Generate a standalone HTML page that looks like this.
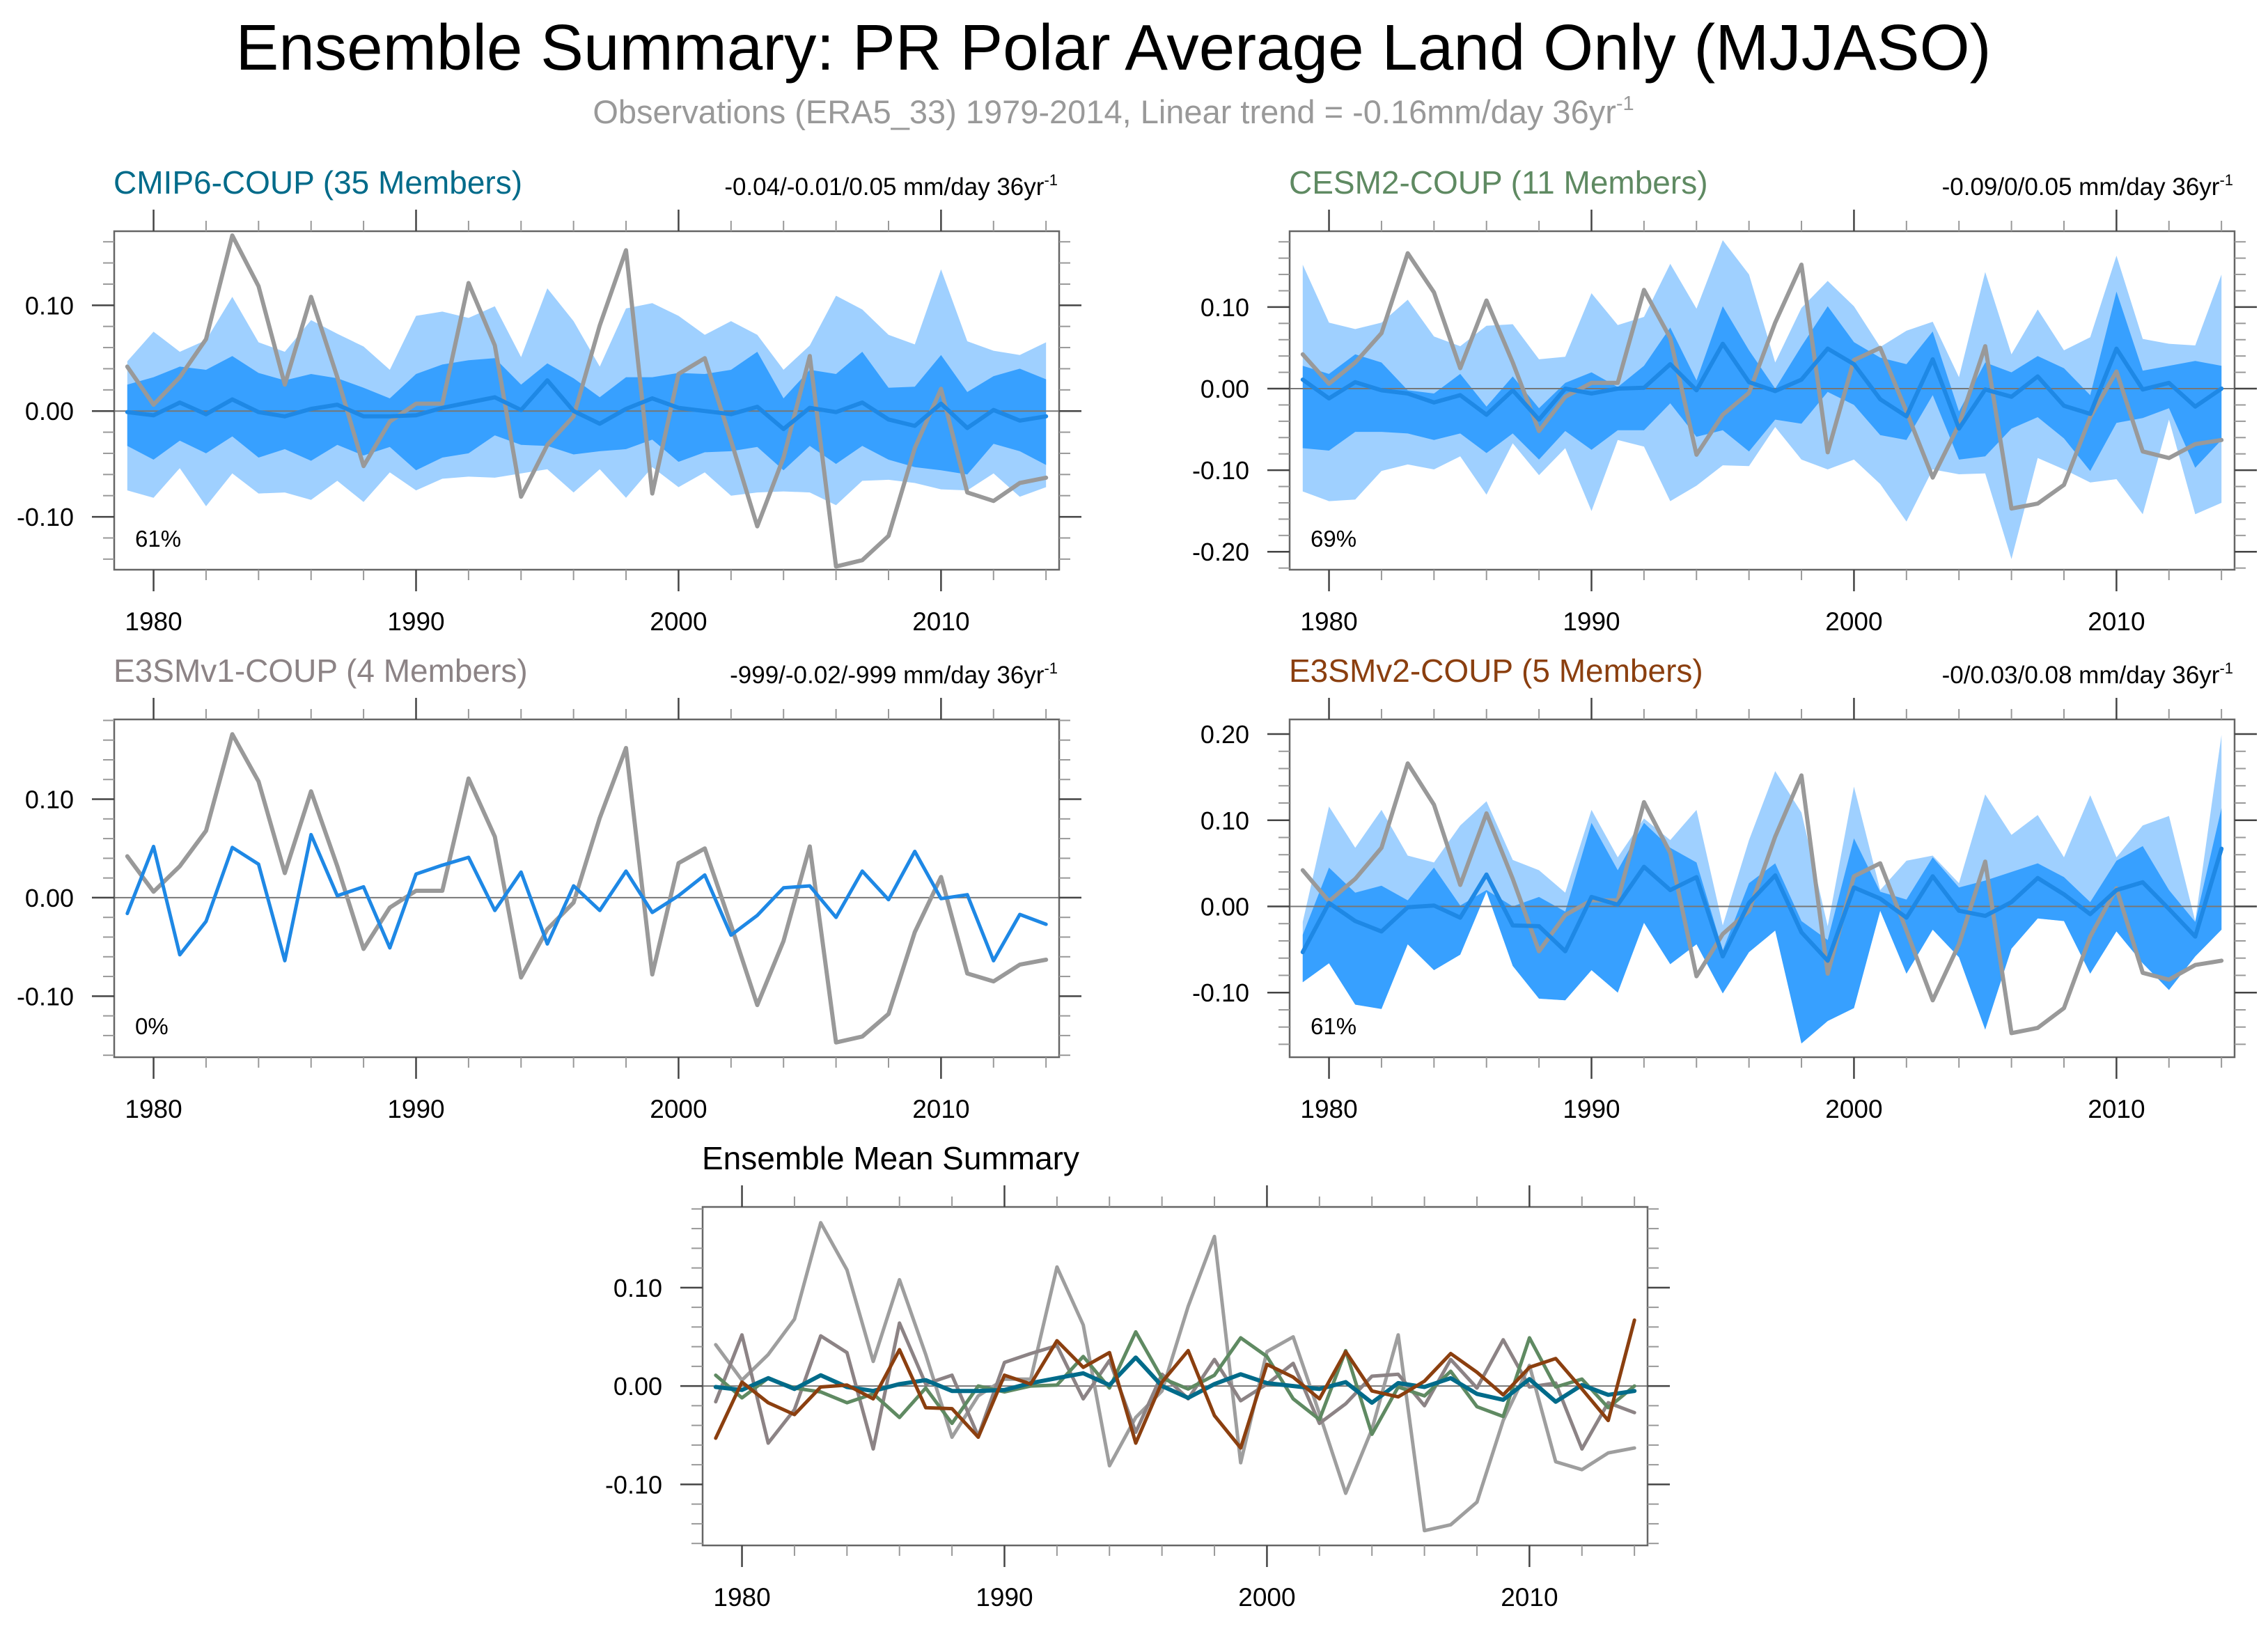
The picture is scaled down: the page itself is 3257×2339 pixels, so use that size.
<!DOCTYPE html>
<html><head><meta charset="utf-8"><style>
html,body{margin:0;padding:0;background:#fff;}
svg{display:block;font-family:"Liberation Sans",Arial,sans-serif;}
</style></head><body>
<svg id="chart" width="3257" height="2339" viewBox="0 0 3257 2339" xmlns="http://www.w3.org/2000/svg">
<rect width="3257" height="2339" fill="#fff"/>
<text x="1599" y="100" font-size="93" text-anchor="middle" fill="#000" textLength="2521" lengthAdjust="spacingAndGlyphs">Ensemble Summary: PR Polar Average Land Only (MJJASO)</text>
<text x="1599" y="177" font-size="47" text-anchor="middle" fill="#999">Observations (ERA5_33) 1979-2014, Linear trend = -0.16mm/day 36yr<tspan font-size="29" dy="-19">-1</tspan></text>
<g id="panels"></g>
</svg>
<script>
const years = [1979,1980,1981,1982,1983,1984,1985,1986,1987,1988,1989,1990,1991,1992,1993,1994,1995,1996,1997,1998,1999,2000,2001,2002,2003,2004,2005,2006,2007,2008,2009,2010,2011,2012,2013,2014];
const obs = [0.042,0.006,0.032,0.068,0.166,0.118,0.025,0.108,0.032,-0.052,-0.010,0.007,0.007,0.121,0.062,-0.081,-0.032,-0.005,0.081,0.152,-0.078,0.035,0.050,-0.028,-0.109,-0.044,0.052,-0.147,-0.141,-0.118,-0.035,0.021,-0.077,-0.085,-0.068,-0.063];
const cmipMean = [-0.001,-0.004,0.008,-0.003,0.011,-0.001,-0.005,0.002,0.006,-0.005,-0.005,-0.004,0.003,0.008,0.013,0.001,0.029,0.000,-0.012,0.002,0.012,0.003,0.000,-0.003,0.004,-0.017,0.003,-0.001,0.008,-0.008,-0.014,0.007,-0.016,0.001,-0.009,-0.005];
const cmipInHi = [0.025,0.032,0.042,0.039,0.052,0.036,0.029,0.035,0.031,0.022,0.012,0.035,0.044,0.048,0.050,0.025,0.045,0.031,0.013,0.032,0.032,0.036,0.035,0.039,0.056,0.012,0.039,0.035,0.056,0.022,0.023,0.053,0.018,0.033,0.040,0.030];
const cmipInLo = [-0.033,-0.046,-0.028,-0.040,-0.024,-0.044,-0.036,-0.047,-0.032,-0.042,-0.034,-0.056,-0.044,-0.040,-0.023,-0.032,-0.033,-0.041,-0.038,-0.036,-0.027,-0.048,-0.039,-0.038,-0.034,-0.056,-0.033,-0.050,-0.033,-0.046,-0.053,-0.056,-0.060,-0.031,-0.038,-0.051];
const cmipOutHi = [0.047,0.075,0.056,0.067,0.108,0.065,0.056,0.086,0.073,0.061,0.039,0.090,0.094,0.088,0.099,0.051,0.116,0.085,0.042,0.097,0.102,0.090,0.072,0.085,0.072,0.039,0.062,0.109,0.096,0.072,0.063,0.134,0.066,0.057,0.053,0.065];
const cmipOutLo = [-0.075,-0.082,-0.054,-0.090,-0.059,-0.078,-0.077,-0.084,-0.066,-0.086,-0.058,-0.075,-0.064,-0.062,-0.063,-0.059,-0.055,-0.077,-0.055,-0.082,-0.053,-0.072,-0.058,-0.080,-0.077,-0.076,-0.077,-0.089,-0.066,-0.065,-0.068,-0.074,-0.075,-0.059,-0.081,-0.072];
const cesmMean = [0.011,-0.012,0.008,-0.002,-0.006,-0.017,-0.008,-0.032,-0.002,-0.038,0.000,-0.006,0.000,0.001,0.030,-0.002,0.055,0.008,-0.003,0.011,0.049,0.030,-0.013,-0.034,0.036,-0.049,-0.001,-0.010,0.015,-0.021,-0.031,0.049,-0.001,0.007,-0.022,0.000];
const cesmInHi = [0.028,0.018,0.042,0.032,-0.002,-0.006,0.018,-0.022,0.015,-0.024,0.007,0.020,0.002,0.028,0.075,0.010,0.101,0.047,0.000,0.052,0.101,0.057,0.038,0.030,0.070,-0.028,0.032,0.020,0.040,0.025,-0.008,0.119,0.022,0.028,0.034,0.028];
const cesmInLo = [-0.073,-0.076,-0.053,-0.053,-0.055,-0.063,-0.055,-0.079,-0.055,-0.087,-0.052,-0.075,-0.051,-0.051,-0.018,-0.059,-0.051,-0.077,-0.038,-0.043,-0.004,-0.020,-0.057,-0.063,-0.008,-0.087,-0.083,-0.049,-0.035,-0.061,-0.101,-0.042,-0.036,-0.024,-0.097,-0.063];
const cesmOutHi = [0.152,0.081,0.073,0.081,0.109,0.064,0.052,0.077,0.079,0.036,0.039,0.117,0.078,0.088,0.153,0.098,0.182,0.140,0.032,0.099,0.132,0.101,0.051,0.071,0.082,0.014,0.143,0.042,0.097,0.047,0.063,0.163,0.061,0.055,0.053,0.140];
const cesmOutLo = [-0.126,-0.138,-0.136,-0.101,-0.093,-0.099,-0.083,-0.130,-0.067,-0.106,-0.073,-0.150,-0.063,-0.071,-0.138,-0.119,-0.094,-0.095,-0.047,-0.087,-0.099,-0.087,-0.117,-0.163,-0.099,-0.105,-0.104,-0.209,-0.085,-0.099,-0.115,-0.111,-0.154,-0.038,-0.154,-0.140];
const e3v1Mean = [-0.016,0.052,-0.058,-0.024,0.051,0.034,-0.064,0.064,0.002,0.011,-0.051,0.024,0.033,0.041,-0.013,0.026,-0.047,0.012,-0.013,0.027,-0.015,0.002,0.023,-0.038,-0.018,0.010,0.012,-0.020,0.027,-0.002,0.047,-0.001,0.003,-0.064,-0.017,-0.027];
const e3v2Mean = [-0.053,0.004,-0.017,-0.029,-0.001,0.001,-0.013,0.037,-0.022,-0.023,-0.052,0.011,0.002,0.046,0.019,0.034,-0.058,0.004,0.036,-0.030,-0.063,0.022,0.009,-0.013,0.035,-0.005,-0.011,0.005,0.033,0.014,-0.009,0.019,0.028,-0.003,-0.035,0.067];
const e3v2InHi = [-0.033,0.045,0.016,0.024,0.007,0.045,0.001,0.019,0.000,0.011,-0.006,0.097,0.042,0.097,0.068,0.051,-0.051,0.027,0.050,-0.017,-0.039,0.079,0.017,0.008,0.057,0.022,0.030,0.040,0.050,0.034,0.005,0.053,0.070,0.019,-0.018,0.114];
const e3v2InLo = [-0.088,-0.066,-0.114,-0.119,-0.044,-0.074,-0.056,0.017,-0.069,-0.107,-0.109,-0.074,-0.100,-0.019,-0.067,-0.044,-0.101,-0.053,-0.028,-0.159,-0.133,-0.118,-0.005,-0.078,-0.027,-0.059,-0.143,-0.049,-0.014,-0.017,-0.078,-0.029,-0.066,-0.097,-0.058,-0.027];
const e3v2OutHi = [-0.018,0.116,0.068,0.112,0.059,0.051,0.094,0.122,0.054,0.042,0.016,0.112,0.057,0.102,0.077,0.112,-0.022,0.077,0.157,0.109,-0.023,0.139,0.019,0.053,0.059,0.027,0.130,0.083,0.106,0.057,0.129,0.057,0.094,0.105,-0.017,0.199];
const yTickLabelsA = ["-0.10","0.00","0.10"];
const yTickLabelsB = ["-0.20","-0.10","0.00","0.10"];
const yTickLabelsC = ["-0.10","0.00","0.10","0.20"];
const xTickLabels = ["1980","1990","2000","2010"];

const NS="http://www.w3.org/2000/svg";
const root=document.getElementById('panels');
function mk(tag,attrs,parent){const e=document.createElementNS(NS,tag);for(const k in attrs)e.setAttribute(k,attrs[k]);(parent||root).appendChild(e);return e;}

function panel(cfg){
  const g=mk('g',{});
  
  
  const xs=v=>cfg.l+(v-1978.5)/36*(cfg.r-cfg.l);
  const ys=v=>cfg.b-(v-cfg.ymin)/(cfg.ymax-cfg.ymin)*(cfg.b-cfg.t);
  const band=(hi,lo,col,nm)=>{
    let d='M'+years.map((y,i)=>xs(y).toFixed(1)+','+ys(hi[i]).toFixed(1)).join(' L');
    for(let i=years.length-1;i>=0;i--)d+=' L'+xs(years[i]).toFixed(1)+','+ys(lo[i]).toFixed(1);
    const p=mk('path',{d:d+'Z',fill:col},g);
    
    
  };
  const line=(vals,col,w,nm)=>{
    const p=mk('polyline',{points:years.map((y,i)=>xs(y).toFixed(1)+','+ys(vals[i]).toFixed(1)).join(' '),fill:'none',stroke:col,'stroke-width':w,'stroke-linejoin':'round','stroke-linecap':'round'},g);
    
    
  };
  (cfg.bands||[]).forEach(b=>band(b[0],b[1],b[2],b[3]));
  const z=mk('line',{x1:cfg.l,x2:cfg.r,y1:ys(0),y2:ys(0),stroke:'#777','stroke-width':2},g);
  
  
  (cfg.lines||[]).forEach(s=>line(s[0],s[1],s[2],s[3]));
  const fr=mk('rect',{x:cfg.l,y:cfg.t,width:cfg.r-cfg.l,height:cfg.b-cfg.t,fill:'none',stroke:'#666','stroke-width':2.5},g);
  
  
  for(let k=Math.ceil(cfg.ymin/0.02-1e-6);k*0.02<=cfg.ymax+1e-9;k++){
    const v=k*0.02, y=ys(v), major=(k%5===0);
    const len=major?32:16;
    mk('line',{x1:cfg.l-len,x2:cfg.l,y1:y,y2:y,stroke:major?'#444':'#999','stroke-width':major?2.5:2},g);
    mk('line',{x1:cfg.r,x2:cfg.r+len,y1:y,y2:y,stroke:major?'#444':'#999','stroke-width':major?2.5:2},g);
  }
  cfg.ylabels.forEach(lbl=>{
    const t=mk('text',{x:cfg.l-58,y:ys(parseFloat(lbl))+13,'font-size':36,'text-anchor':'end',fill:'#000'},g);
    t.textContent=lbl;
    
    
  });
  for(let yr=1980;yr<=2014;yr+=2){
    const x=xs(yr), major=(yr%10===0), len=major?31:15;
    mk('line',{x1:x,x2:x,y1:cfg.t-len,y2:cfg.t,stroke:major?'#444':'#999','stroke-width':major?2.5:2},g);
    mk('line',{x1:x,x2:x,y1:cfg.b,y2:cfg.b+len,stroke:major?'#444':'#999','stroke-width':major?2.5:2},g);
  }
  xTickLabels.forEach(lbl=>{
    const t=mk('text',{x:xs(parseFloat(lbl)),y:cfg.b+87,'font-size':37,'text-anchor':'middle',fill:'#000'},g);
    t.textContent=lbl;
    
    
  });
  const tt=mk('text',{x:cfg.l-1,y:cfg.t-54,'font-size':cfg.tfs||46,fill:cfg.tcol},g);
  tt.textContent=cfg.title;
  
  
  if(cfg.trend){
    const tr=mk('text',{x:cfg.r-2,y:cfg.t-52,'font-size':35,'text-anchor':'end',fill:'#000'},g);
    tr.textContent=cfg.trend;
    const sp=mk('tspan',{'font-size':22,dy:-14},tr);sp.textContent='-1';
    
    
  }
  if(cfg.pct){
    const pc=mk('text',{x:cfg.l+30,y:cfg.b-33,'font-size':33,fill:'#000'},g);
    pc.textContent=cfg.pct;
    
    
  }
}
const LB='#9fd0ff', DB='#37a0ff', MB='#1e88e5', OG='#999999';
panel({name:'cmip6-panel',l:164,r:1521,t:332,b:818,ymin:-0.150,ymax:0.170,ylabels:yTickLabelsA,title:'CMIP6-COUP (35 Members)',tcol:'#006b8a',trend:'-0.04/-0.01/0.05 mm/day 36yr',pct:'61%',
  bands:[[cmipOutHi,cmipOutLo,LB,'outer-spread-band'],[cmipInHi,cmipInLo,DB,'inner-spread-band']],
  lines:[[obs,OG,6,'observation-line'],[cmipMean,MB,6,'ensemble-mean-line']]});
panel({name:'cesm2-panel',l:1852,r:3209,t:332,b:818,ymin:-0.222,ymax:0.193,ylabels:yTickLabelsB,title:'CESM2-COUP (11 Members)',tcol:'#5f8a62',trend:'-0.09/0/0.05 mm/day 36yr',pct:'69%',
  bands:[[cesmOutHi,cesmOutLo,LB,'outer-spread-band'],[cesmInHi,cesmInLo,DB,'inner-spread-band']],
  lines:[[obs,OG,6,'observation-line'],[cesmMean,MB,6,'ensemble-mean-line']]});
panel({name:'e3smv1-panel',l:164,r:1521,t:1033,b:1518,ymin:-0.162,ymax:0.181,ylabels:yTickLabelsA,title:'E3SMv1-COUP (4 Members)',tcol:'#8c8385',trend:'-999/-0.02/-999 mm/day 36yr',pct:'0%',
  bands:[],
  lines:[[obs,OG,6,'observation-line'],[e3v1Mean,MB,5,'ensemble-mean-line']]});
panel({name:'e3smv2-panel',l:1852,r:3209,t:1033,b:1518,ymin:-0.175,ymax:0.217,ylabels:yTickLabelsC,title:'E3SMv2-COUP (5 Members)',tcol:'#8b3f0f',trend:'-0/0.03/0.08 mm/day 36yr',pct:'61%',
  bands:[[e3v2OutHi,e3v2InLo,LB,'outer-spread-band'],[e3v2InHi,e3v2InLo,DB,'inner-spread-band']],
  lines:[[obs,OG,6,'observation-line'],[e3v2Mean,MB,6,'ensemble-mean-line']]});
panel({name:'ensemble-mean-summary-panel',l:1009,r:2366,t:1733,b:2219,ymin:-0.162,ymax:0.182,ylabels:yTickLabelsA,title:'Ensemble Mean Summary',tcol:'#000',tfs:46,
  bands:[],
  lines:[[obs,'#9e9e9e',5,'observation-line'],[e3v1Mean,'#8c8385',5,'e3smv1-mean-line'],[cesmMean,'#5f8a62',5,'cesm2-mean-line'],[cmipMean,'#006b8a',6,'cmip6-mean-line'],[e3v2Mean,'#8b3f0f',5,'e3smv2-mean-line']]});
</script>
</body></html>
